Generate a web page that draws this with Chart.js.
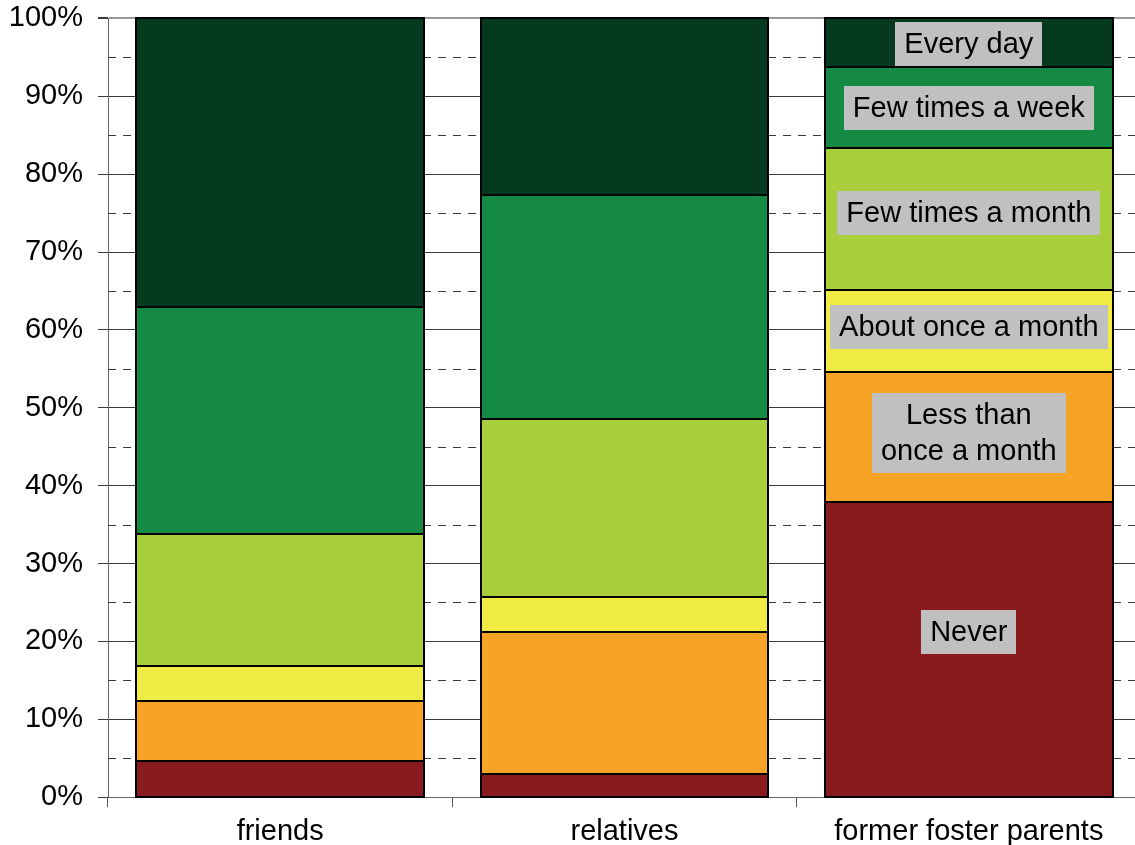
<!DOCTYPE html>
<html>
<head>
<meta charset="utf-8">
<script src="https://cdn.jsdelivr.net/npm/chart.js@4.4.1/dist/chart.umd.min.js"></script>
<style>
  html, body { margin: 0; padding: 0; background: #fff; overflow: hidden; width: 1135px; height: 845px; }
  #wrap { position: absolute; left: 0; top: -14px; width: 1141px; height: 872px; }
</style>
</head>
<body>
<div id="wrap"><canvas id="chart"></canvas></div>
<script>
// Contact frequency by group (percent of respondents)
const categories = ['friends', 'relatives', 'former foster parents'];

const seriesNames = [
  'Never',
  'Less than\nonce a month',
  'About once a month',
  'Few times a month',
  'Few times a week',
  'Every day'
];

const never            = [4.6, 3.0, 37.9];
const lessThanMonthly  = [7.7, 18.2, 16.7];
const aboutMonthly     = [4.6, 4.5, 10.5];
const fewTimesMonth    = [16.9, 22.8, 18.2];
const fewTimesWeek     = [29.2, 28.8, 10.5];
const everyDay         = [37.0, 22.7, 6.2];

const seriesValues = [never, lessThanMonthly, aboutMonthly, fewTimesMonth, fewTimesWeek, everyDay];
const seriesColors = ['#891A1D', '#F7A326', '#F0EB45', '#A9CE3B', '#158A44', '#063A1F'];

// index of the bar that carries the series name labels
const labelledBar = 2;

const FONT = '"Liberation Sans", Arial, sans-serif';

// dashed minor grid lines at the 5% marks, drawn behind the bars
const minorGrid = {
  id: 'minorGrid',
  beforeDatasetsDraw(chart) {
    const { ctx, chartArea, scales } = chart;
    const y = scales.y;
    ctx.save();
    ctx.strokeStyle = '#3a3a3a';
    ctx.lineWidth = 1;
    ctx.setLineDash([8, 7]);
    for (let v = 5; v < 100; v += 10) {
      const py = Math.round(y.getPixelForValue(v)) + 0.5;
      ctx.beginPath();
      ctx.moveTo(chartArea.left, py);
      ctx.lineTo(chartArea.right, py);
      ctx.stroke();
    }
    ctx.restore();
  }
};

// black outlines centred on each segment edge, then the series names in grey boxes
const segmentOutlines = {
  id: 'segmentOutlines',
  afterDatasetsDraw(chart, args, opts) {
    const { ctx } = chart;
    ctx.save();
    ctx.strokeStyle = '#000';
    ctx.lineWidth = 2;
    chart.data.datasets.forEach((ds, i) => {
      chart.getDatasetMeta(i).data.forEach((el) => {
        const { x, y, base, width } = el.getProps(['x', 'y', 'base', 'width'], true);
        const l = Math.round(x - width / 2), r = Math.round(x + width / 2);
        const t = Math.round(y), b = Math.round(base);
        ctx.strokeRect(l, t, r - l, b - t);
      });
    });

    ctx.font = '29px ' + FONT;
    ctx.textAlign = 'center';
    ctx.textBaseline = 'middle';
    const lineH = 36;
    chart.data.datasets.forEach((ds, i) => {
      const el = chart.getDatasetMeta(i).data[labelledBar];
      if (!el) return;
      const { x, y, base } = el.getProps(['x', 'y', 'base'], true);
      const cy = (y + base) / 2 + (opts.shift[i] || 0);
      const lines = ds.label.split('\n');
      const w = Math.max(...lines.map(l => ctx.measureText(l).width)) + 18;
      const h = lines.length * lineH + 8;
      ctx.fillStyle = '#C0C0C0';
      ctx.fillRect(Math.round(x - w / 2), Math.round(cy - h / 2), Math.round(w), Math.round(h));
      ctx.fillStyle = '#000';
      lines.forEach((l, k) => {
        ctx.fillText(l, x, cy - (lines.length - 1) * lineH / 2 + k * lineH + 1);
      });
    });
    ctx.restore();
  }
};

new Chart(document.getElementById('chart'), {
  type: 'bar',
  data: {
    labels: categories,
    datasets: seriesNames.map((name, i) => ({
      label: name,
      data: seriesValues[i],
      backgroundColor: seriesColors[i],
      borderWidth: 0,
      barPercentage: 0.835,
      categoryPercentage: 1.0
    }))
  },
  options: {
    responsive: true,
    maintainAspectRatio: false,
    animation: false,
    layout: { padding: { left: 10, right: 0, top: 3, bottom: 2 } },
    plugins: {
      legend: { display: false },
      tooltip: { enabled: false },
      segmentOutlines: { shift: { 0: -17, 1: -4, 2: -4, 3: -6, 4: 0, 5: 1 } }
    },
    scales: {
      x: {
        stacked: true,
        grid: {
          drawOnChartArea: false,
          drawTicks: true,
          tickLength: 10,
          tickColor: '#555',
          offset: true
        },
        border: { display: true, color: '#666', width: 1 },
        ticks: {
          color: '#000',
          font: { family: FONT, size: 29 },
          padding: 7,
          maxRotation: 0
        }
      },
      y: {
        stacked: true,
        min: 0,
        max: 100,
        afterFit: (scale) => { scale.width = 98; },
        grid: {
          color: (c) => c.tick && c.tick.value === 100 ? '#999' : '#3a3a3a',
          lineWidth: (c) => c.tick && c.tick.value === 100 ? 2 : 1,
          drawTicks: true,
          tickLength: 10,
          tickColor: '#3a3a3a'
        },
        border: { display: true, color: '#666', width: 1 },
        ticks: {
          stepSize: 10,
          color: '#000',
          font: { family: FONT, size: 29 },
          padding: 15,
          callback: (v) => v + '%'
        }
      }
    }
  },
  plugins: [minorGrid, segmentOutlines]
});
</script>
</body>
</html>
